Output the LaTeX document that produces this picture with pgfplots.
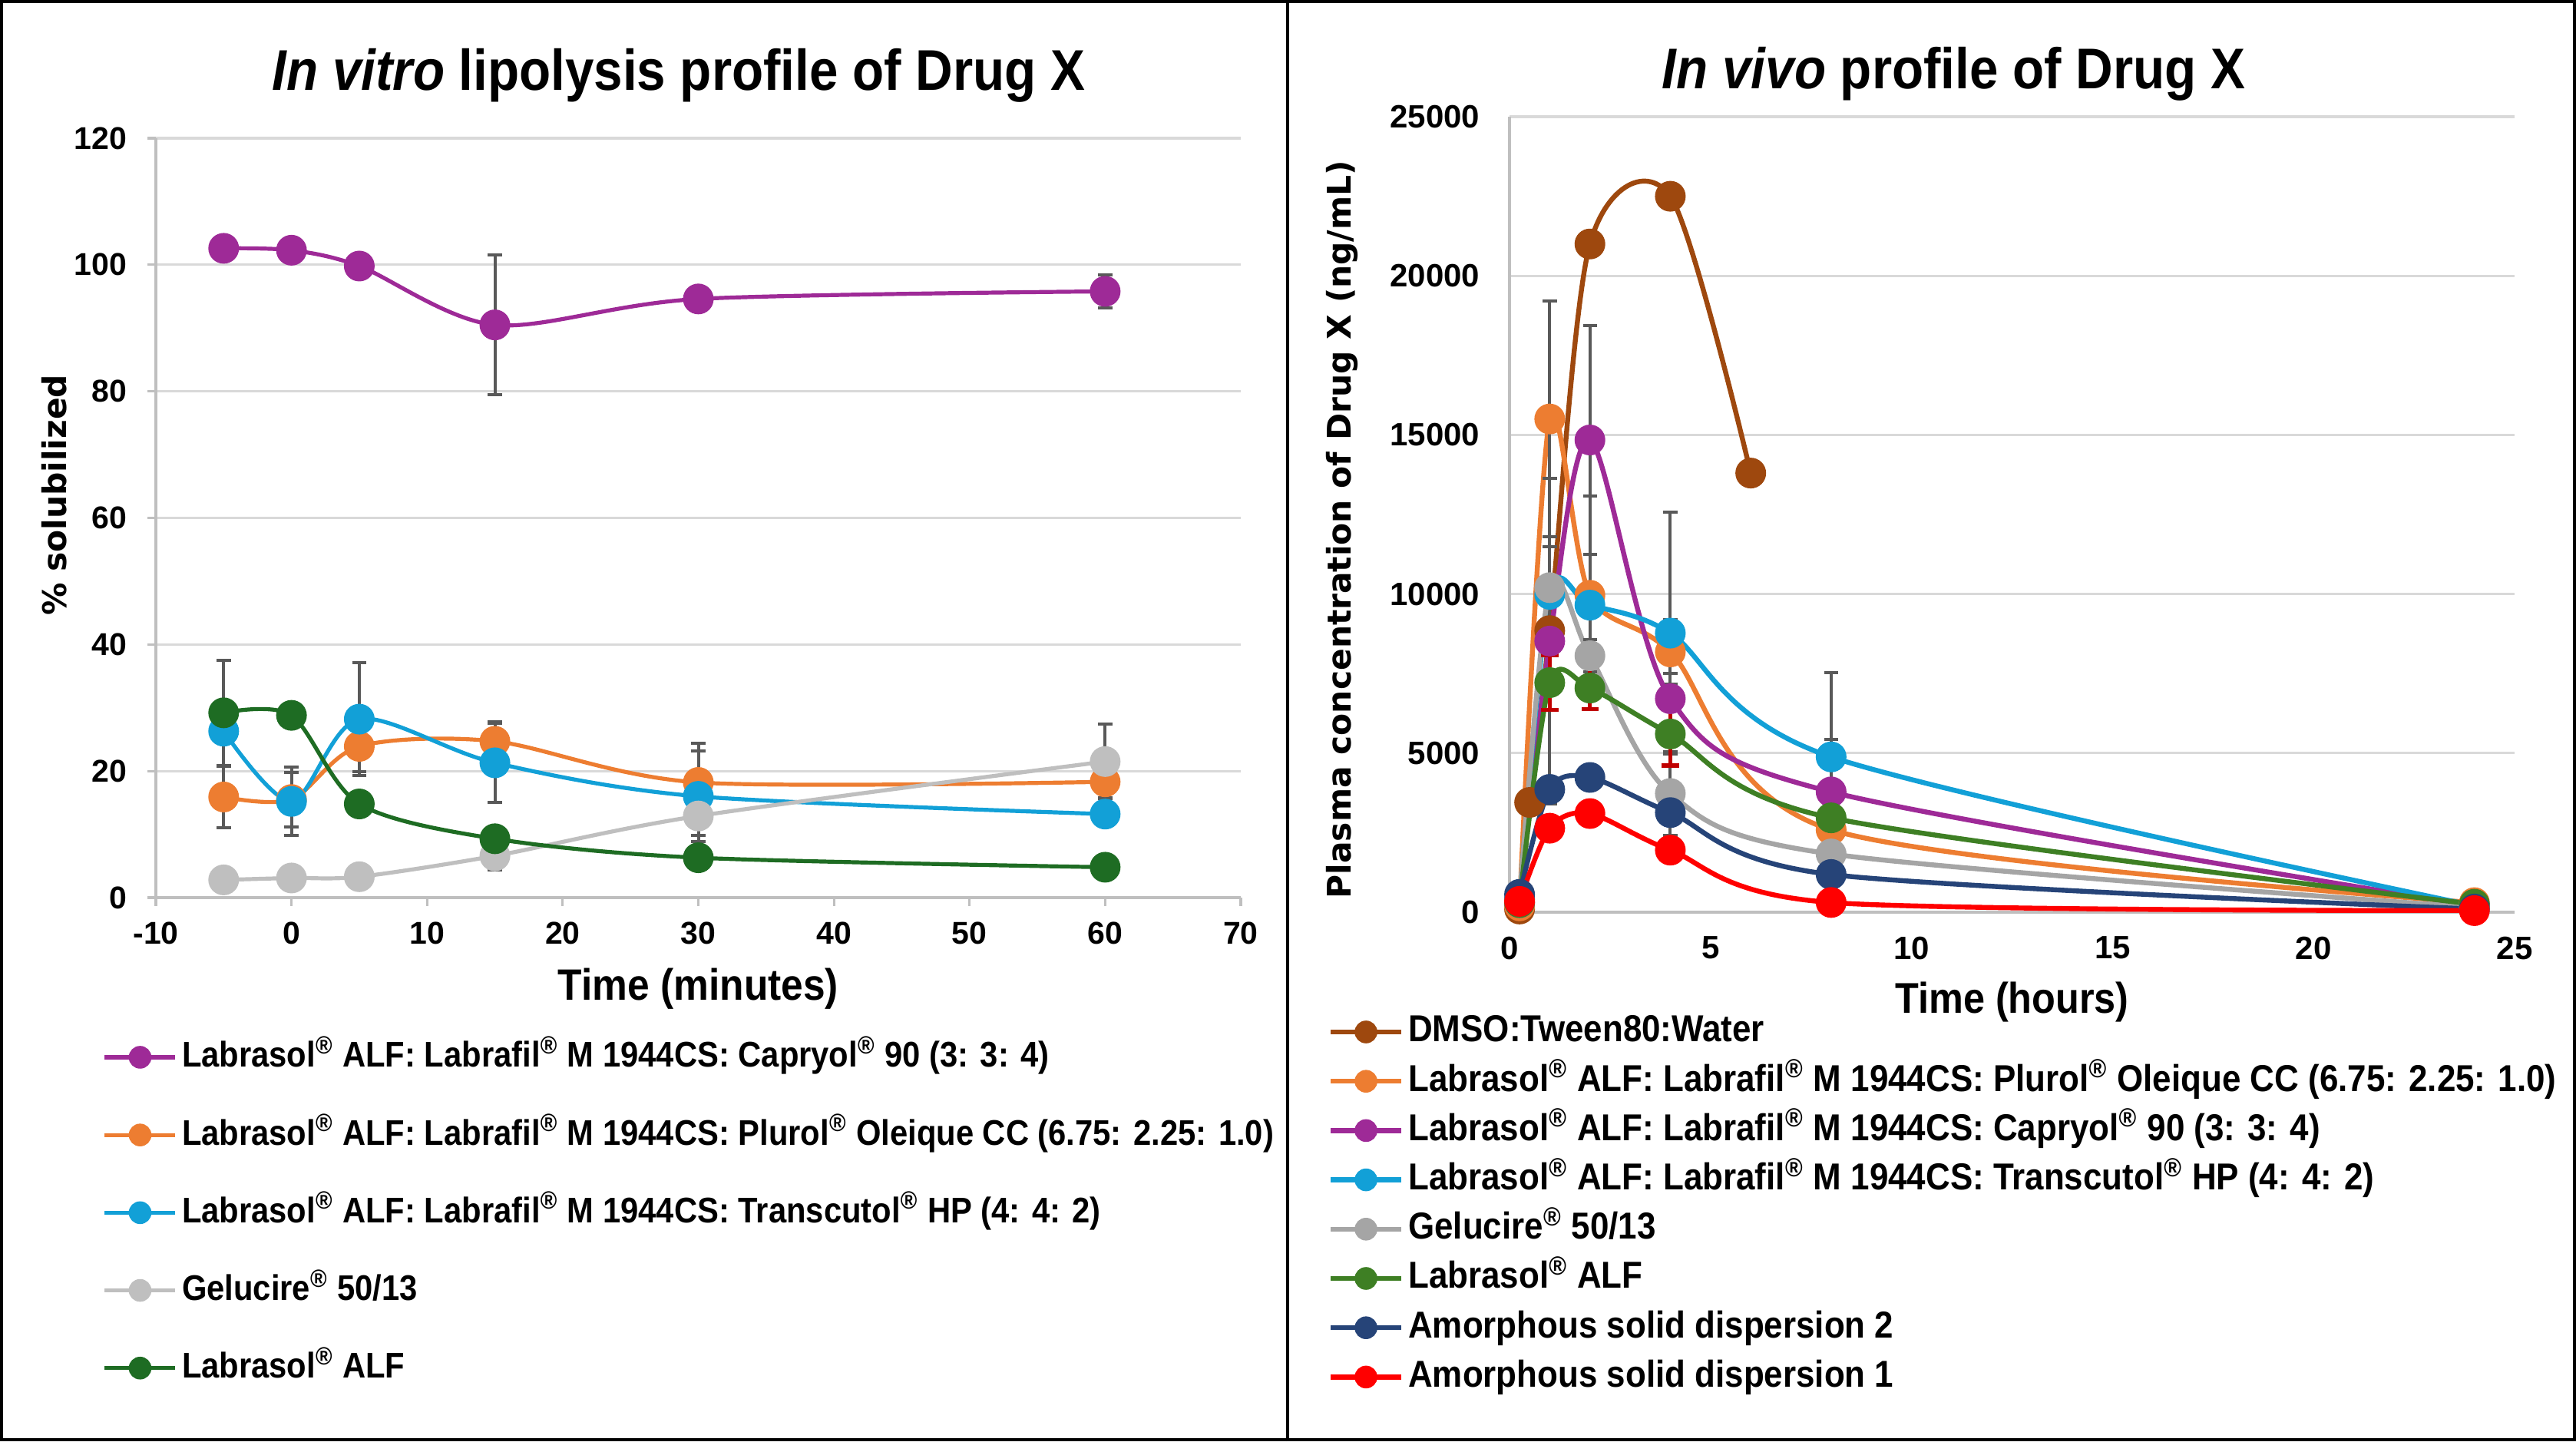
\documentclass[border=0pt]{standalone}
\usepackage{fontspec}
\setmainfont{Liberation Sans}[FakeStretch=0.9]
\newfontfamily\widefont{DejaVu Sans}
\newfontfamily\arialfont{Liberation Sans}
\usepackage{pgfplots}
\pgfplotsset{compat=1.18}

\definecolor{cpurple}{HTML}{9E2A97}
\definecolor{corange}{HTML}{ED7D31}
\definecolor{cblue}{HTML}{12A0D7}
\definecolor{cgrayL}{HTML}{BFBFBF}
\definecolor{cgrayR}{HTML}{A5A5A5}
\definecolor{cgreenL}{HTML}{1E6C23}
\definecolor{cgreenR}{HTML}{3E7F24}
\definecolor{cnavy}{HTML}{264478}
\definecolor{cred}{HTML}{FF0000}
\definecolor{cbrown}{HTML}{9E480E}
\definecolor{axisgray}{HTML}{BFBFBF}
\definecolor{gridgray}{HTML}{D9D9D9}
\definecolor{errgray}{HTML}{595959}
\definecolor{errred}{HTML}{C00000}

\newcommand\R{\textsuperscript{®}}

\pgfplotsset{
  drug/.style={
    scale only axis,
    axis x line*=bottom, axis y line*=left,
    axis line style={draw=axisgray, line width=0.8pt},
    ymajorgrids, grid style={draw=gridgray, line width=0.8pt},
    /pgf/number format/assume math mode=true,
    /pgf/number format/1000 sep={},
    legend cell align=left,
    legend style={draw=none, fill=none, inner sep=0pt, anchor=north west,
      column sep=1.5pt, nodes={inner sep=0pt, text height=9pt, text depth=2.5pt}},
    legend image code/.code={\draw[mark repeat=2,mark phase=2,##1,mark size=3.5pt]
      plot coordinates {(0pt,0pt) (11.5pt,0pt) (23pt,0pt)};},
    every axis plot/.append style={smooth, tension=0.5, mark=*, mark size=4.8pt,
      mark options={solid, line width=0.4pt}},
    error bars/y dir=both, error bars/y explicit,
    error bars/error bar style={line width=1pt, draw=errgray},
    error bars/error mark options={line width=1pt, draw=errgray, mark size=2.3pt, rotate=90},
    every axis title shift=0pt,
    title style={font=\fontsize{18.7}{22}\selectfont\bfseries, anchor=center},
    ylabel style={font=\widefont\fontsize{10.6}{13}\selectfont\bfseries, anchor=center},
  }
}

\begin{document}
\begin{tikzpicture}
\useasboundingbox (0,0) rectangle (838.75pt,469.25pt);
\draw[line width=1pt] (0.5pt,0.5pt) rectangle (838.25pt,468.75pt);
\draw[line width=0.8pt] (419.25pt,0pt) -- (419.25pt,469.25pt);

\begin{axis}[drug,
  at={(50.75pt,177pt)}, anchor=south west,
  width=353.25pt, height=247.25pt,
  xmin=-10, xmax=70, ymin=0, ymax=120,
  xtick distance=10, ytick distance=20,
  tick align=outside, major tick length=2.8pt,
  tick style={draw=axisgray, line width=0.8pt},
  ticklabel style={font=\arialfont\fontsize{10.25}{12}\selectfont\bfseries, inner sep=0pt},
  xticklabel shift=4.9pt, yticklabel shift=6.4pt,
  title={{\itshape In vitro} lipolysis profile of Drug X},
  title style={at={(axis description cs:0.482,1.0825)}},
  xlabel={Time (minutes)},
  xlabel style={font=\fontsize{14.3}{17}\selectfont\bfseries, anchor=center,
    at={(axis description cs:0.5,-0.12)}},
  ylabel={\% solubilized},
  ylabel style={at={(axis description cs:-0.0934,0.53)}},
  legend style={at={(axis description cs:-0.0495,-0.1862)}, row sep=13.8pt,
    font=\fontsize{11.6}{13}\selectfont\bfseries},
]
\addplot[color=cpurple, line width=1.3pt] table[x=x,y=y,y error=e] {
x y e
-5 102.6 0
0 102.3 0
5 99.8 0
15 90.5 11
30 94.6 0
60 95.8 2.6
};
\addlegendentry{Labrasol\R{} ALF: Labrafil\R{} M 1944CS: Capryol\R{} 90 (3: 3: 4)}
\addplot[color=corange, line width=1.3pt] table[x=x,y=y,y error=e] {
x y e
-5 15.9 4.9
0 15.5 4.3
5 23.9 4.0
15 24.7 3.1
30 18.2 6.2
60 18.3 2.5
};
\addlegendentry{Labrasol\R{} ALF: Labrafil\R{} M 1944CS: Plurol\R{} Oleique CC (6.75: 2.25: 1.0)}
\addplot[color=cblue, line width=1.3pt] table[x=x,y=y,y error=e] {
x y e
-5 26.3 0
0 15.2 5.4
5 28.2 8.9
15 21.3 6.2
30 16.0 7.2
60 13.2 0
};
\addlegendentry{Labrasol\R{} ALF: Labrafil\R{} M 1944CS: Transcutol\R{} HP (4: 4: 2)}
\addplot[color=cgrayL, line width=1.3pt] table[x=x,y=y,y error=e] {
x y e
-5 2.8 0
0 3.1 0
5 3.3 0
15 6.6 2.2
30 12.9 3.1
60 21.5 5.9
};
\addlegendentry{Gelucire\R{} 50/13}
\addplot[color=cgreenL, line width=1.3pt] table[x=x,y=y,y error=e] {
x y e
-5 29.2 8.3
0 28.8 0
5 14.8 0
15 9.3 0
30 6.3 0
60 4.8 0
};
\addlegendentry{Labrasol\R{} ALF}
\end{axis}

\begin{axis}[drug,
  at={(491.5pt,172.25pt)}, anchor=south west,
  width=327.25pt, height=259pt,
  xmin=0, xmax=25, ymin=0, ymax=25000,
  xtick distance=5, ytick distance=5000,
  major tick length=0pt,
  ticklabel style={font=\arialfont\fontsize{10.5}{12}\selectfont\bfseries, inner sep=0pt},
  xticklabel shift=7.75pt, yticklabel shift=9.5pt,
  scaled y ticks=false,
  title={{\itshape In vivo} profile of Drug X},
  title style={at={(axis description cs:0.442,1.0538)}},
  xlabel={Time (hours)},
  xlabel style={font=\fontsize{14}{17}\selectfont\bfseries, anchor=center,
    at={(axis description cs:0.5,-0.113)}},
  ylabel={Plasma concentration of Drug X (ng/mL)},
  ylabel style={at={(axis description cs:-0.1665,0.481)}},
  legend style={at={(axis description cs:-0.181,-0.1276)}, row sep=4.55pt,
    font=\fontsize{12.2}{14}\selectfont\bfseries},
]
\addplot[color=cbrown, line width=1.6pt] table[x=x,y=y,y error=e] {
x y e
0.25 100 0
0.5 3450 0
1 8850 0
2 21000 0
4 22500 0
6 13800 0
};
\addlegendentry{DMSO:Tween80:Water}
\addplot[color=corange, line width=1.6pt] table[x=x,y=y,y error=e] {
x y e
0.25 200 0
1 15500 3700
2 9960 3130
4 8180 1010
8 2590 0
24 300 0
};
\addlegendentry{Labrasol\R{} ALF: Labrafil\R{} M 1944CS: Plurol\R{} Oleique CC (6.75: 2.25: 1.0)}
\addplot[color=cpurple, line width=1.6pt] table[x=x,y=y,y error=e] {
x y e
0.25 300 0
1 8520 5110
2 14840 3590
4 6710 800
8 3780 1640
24 200 0
};
\addlegendentry{Labrasol\R{} ALF: Labrafil\R{} M 1944CS: Capryol\R{} 90 (3: 3: 4)}
\addplot[color=cblue, line width=1.6pt] table[x=x,y=y,y error=e] {
x y e
0.25 400 0
1 9990 1490
2 9650 0
4 8770 3810
8 4880 2660
24 200 0
};
\addlegendentry{Labrasol\R{} ALF: Labrafil\R{} M 1944CS: Transcutol\R{} HP (4: 4: 2)}
\addplot[color=cgrayR, line width=1.6pt] table[x=x,y=y,y error=e] {
x y e
0.25 300 0
1 10200 0
2 8060 510
4 3730 1320
8 1830 0
24 150 0
};
\addlegendentry{Gelucire\R{} 50/13}
\addplot[color=cgreenR, line width=1.6pt,
  error bars/error bar style={line width=1.3pt, draw=errred},
  error bars/error mark options={line width=1.3pt, draw=errred, mark size=2.8pt, rotate=90}]
  table[x=x,y=y,y error=e] {
x y e
0.25 300 0
1 7215 850
2 7045 665
4 5600 990
8 2965 0
24 250 0
};
\addlegendentry{Labrasol\R{} ALF}
\addplot[color=cnavy, line width=1.6pt] table[x=x,y=y,y error=e] {
x y e
0.25 560 0
1 3860 0
2 4235 0
4 3130 0
8 1185 0
24 100 0
};
\addlegendentry{Amorphous solid dispersion 2}
\addplot[color=cred, line width=1.6pt] table[x=x,y=y,y error=e] {
x y e
0.25 340 0
1 2640 0
2 3100 0
4 1950 0
8 305 0
24 50 0
};
\addlegendentry{Amorphous solid dispersion 1}
\end{axis}
\end{tikzpicture}
\end{document}
